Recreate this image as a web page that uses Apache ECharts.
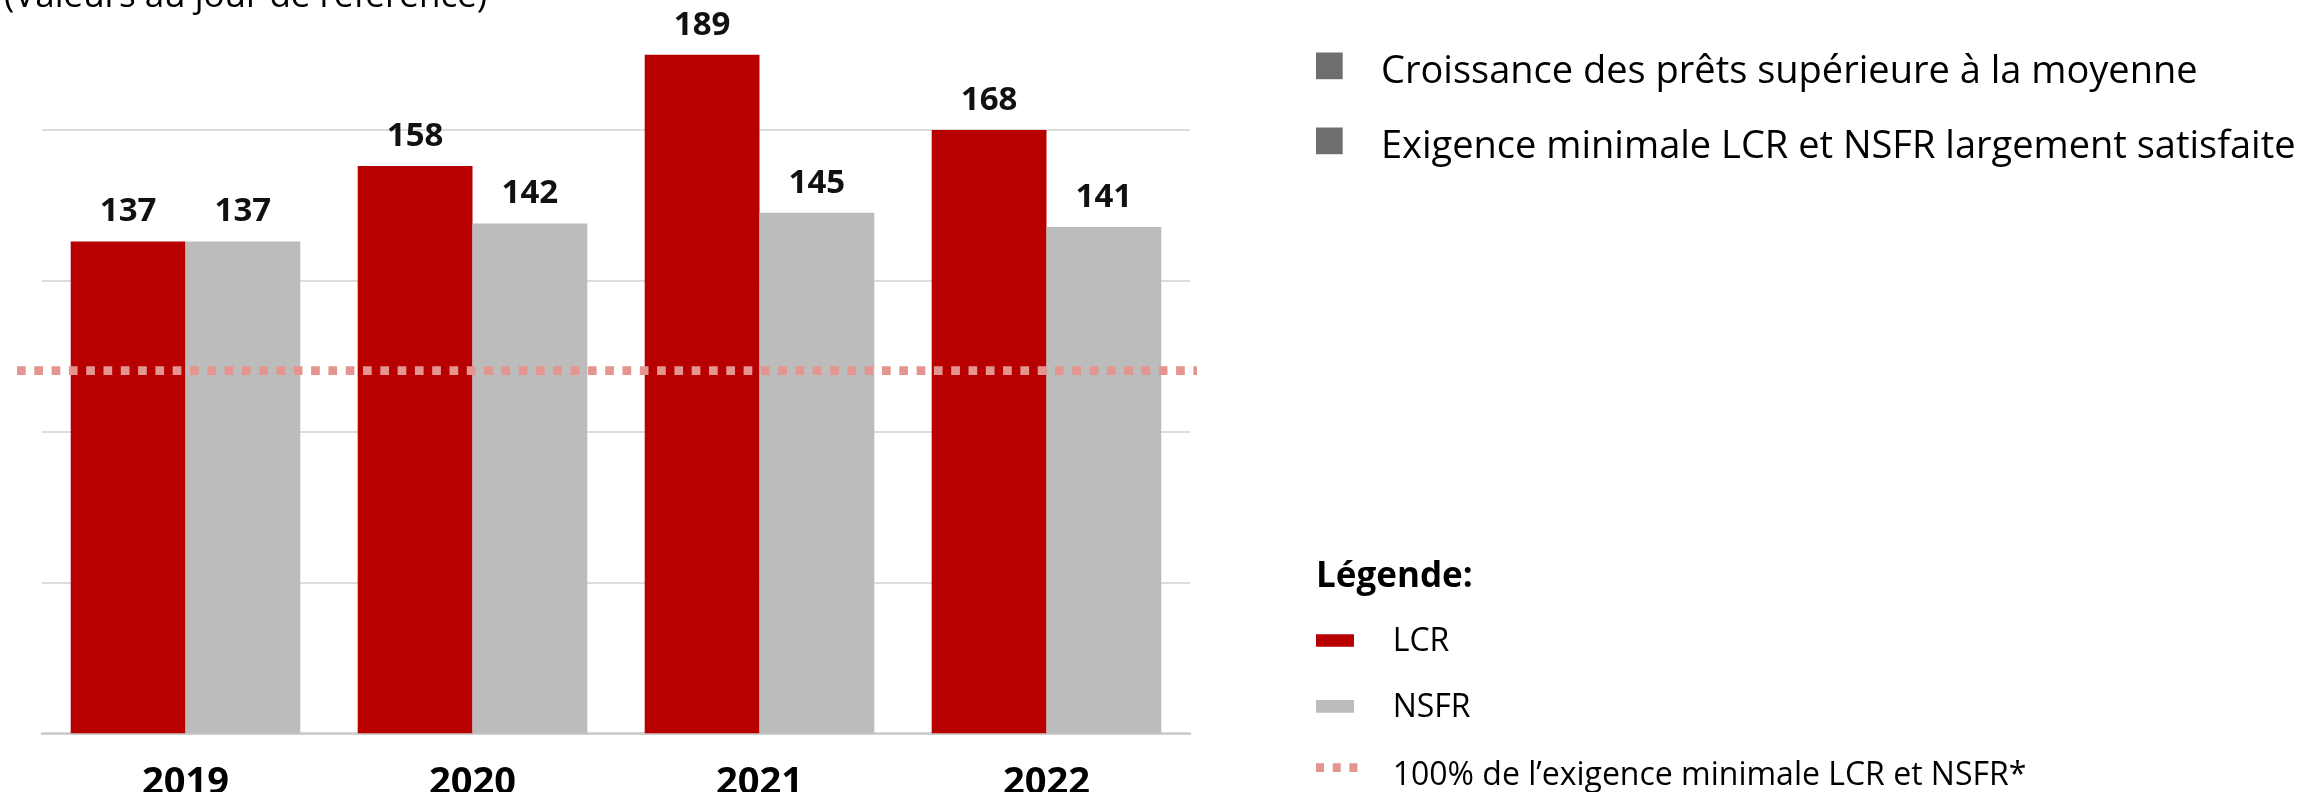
<!DOCTYPE html>
<html>
<head>
<meta charset="utf-8">
<script src="https://cdn.jsdelivr.net/npm/echarts@6/dist/echarts.min.js"></script>
<style>
  html, body { margin: 0; padding: 0; background: #fff; }
  #chart { width: 2305px; height: 792px; }
</style>
</head>
<body>
<div id="chart"></div>
<script>
// data
const years = ['2019', '2020', '2021', '2022']
const lcrValues = [137, 158, 189, 168]
const nsfrValues = [137, 142, 145, 141]
const requirementLevel = 101 // dotted "100%" line, as drawn
const yTicks = [0, 42, 84, 126, 168, 210]

const RED = '#b80000'
const GREY = '#bcbcbc'
const PINK = '#e4958f'
const FONT = '"Open Sans", "Noto Sans", sans-serif'

const chart = echarts.init(document.getElementById('chart'), null, { renderer: 'canvas' })

// plot area runs past the top edge (the reference is cropped there)
const gridTop = -20.7
const gridBottom = 58.7

// legend items on the right, drawn as plain graphics
function legendText(text, x, y, size, weight) {
  return {
    type: 'text',
    style: {
      text: text, x: x, y: y,
      fill: '#000',
      font: (weight || 'normal') + ' ' + size + 'px ' + FONT,
      verticalAlign: 'middle',
    },
  }
}

const graphic = [
  legendText('(Valeurs au jour de référence)', 4, -3, 35),

  { type: 'rect', shape: { x: 1316, y: 52.5, width: 26.7, height: 26.7 }, style: { fill: '#6e6e6e' } },
  legendText('Croissance des prêts supérieure à la moyenne', 1381, 72, 38),
  { type: 'rect', shape: { x: 1316, y: 127.5, width: 26.7, height: 26.7 }, style: { fill: '#6e6e6e' } },
  legendText('Exigence minimale LCR et NSFR largement satisfaite', 1381, 147, 38),

  legendText('Légende:', 1316, 577, 35, 'bold'),
  { type: 'rect', shape: { x: 1316, y: 634.3, width: 38, height: 12.4 }, style: { fill: RED } },
  legendText('LCR', 1392.7, 642, 32),
  { type: 'rect', shape: { x: 1316, y: 700, width: 38, height: 12.7 }, style: { fill: GREY } },
  legendText('NSFR', 1392.7, 708, 32),
  {
    type: 'line',
    shape: { x1: 1316, y1: 767.7, x2: 1359, y2: 767.7 },
    style: { stroke: PINK, lineWidth: 8.7, lineDash: [8, 8.7] },
  },
  legendText('100% de l\u2019exigence minimale LCR et NSFR*', 1392.7, 776, 32),
]

const barLabel = {
  show: true, position: 'top', distance: 13,
  color: '#111', fontFamily: FONT, fontWeight: 'bold', fontSize: 33,
}

const option = {
  animation: false,
  backgroundColor: '#fff',
  grid: [
    { left: 42, right: 2305 - 1190, top: gridTop, bottom: gridBottom, outerBoundsMode: 'none' },
    // wider grid only for the dotted requirement line
    { left: 17, right: 2305 - 1197, top: gridTop, bottom: gridBottom, outerBoundsMode: 'none' },
  ],
  xAxis: [
    {
      type: 'category',
      gridIndex: 0,
      data: years,
      axisTick: { show: false },
      axisLine: { lineStyle: { color: '#cbcbcb', width: 2.5 } },
      axisLabel: {
        color: '#000', fontFamily: FONT, fontWeight: 'bold', fontSize: 38, margin: 31,
      },
    },
    { type: 'value', gridIndex: 1, min: 0, max: 1, show: false },
  ],
  yAxis: [
    {
      type: 'value',
      gridIndex: 0,
      min: yTicks[0],
      max: yTicks[yTicks.length - 1],
      interval: yTicks[1] - yTicks[0],
      axisLabel: { show: false },
      axisLine: { show: false },
      axisTick: { show: false },
      splitLine: { lineStyle: { color: '#dcdcdc', width: 2 } },
    },
    {
      type: 'value',
      gridIndex: 1,
      min: yTicks[0],
      max: yTicks[yTicks.length - 1],
      show: false,
    },
  ],
  series: [
    {
      name: 'LCR',
      type: 'bar',
      xAxisIndex: 0, yAxisIndex: 0,
      data: lcrValues,
      barGap: '0%',
      barCategoryGap: '20%',
      itemStyle: { color: RED },
      label: barLabel,
    },
    {
      name: 'NSFR',
      type: 'bar',
      xAxisIndex: 0, yAxisIndex: 0,
      data: nsfrValues,
      barGap: '0%',
      barCategoryGap: '20%',
      itemStyle: { color: GREY },
      label: barLabel,
    },
    {
      name: 'Exigence minimale',
      type: 'line',
      xAxisIndex: 1, yAxisIndex: 1,
      data: [[0, requirementLevel], [1, requirementLevel]],
      symbol: 'none',
      z: 5,
      lineStyle: { color: PINK, width: 8.7, type: [8.7, 8.6], cap: 'butt' },
    },
  ],
  graphic: graphic,
}

chart.setOption(option)
</script>
</body>
</html>
